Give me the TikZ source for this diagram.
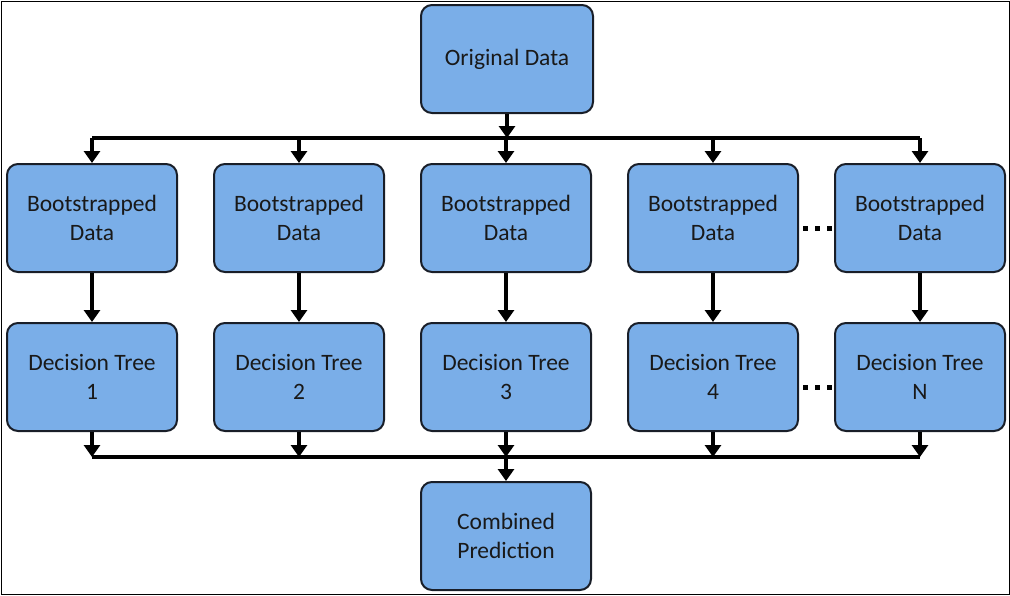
\documentclass[tikz,border=0pt]{standalone}
\usepackage{fontspec}
\setmainfont{Carlito}
\usetikzlibrary{arrows.meta}
\definecolor{boxblue}{RGB}{122,174,232}
\definecolor{boxedge}{RGB}{25,30,40}
\begin{document}
\begin{tikzpicture}[x=1pt,y=-1pt,
  box/.style={draw=boxedge, line width=2pt, fill=boxblue, rounded corners=11pt,
    minimum width=170pt, minimum height=108pt, inner sep=0pt, align=center,
    font=\fontsize{23.5}{29}\selectfont, text=black!90},
  conn/.style={line width=4pt},
  arr/.style={line width=4pt, -{Triangle[length=12pt,width=16pt]}},
  dotline/.style={line width=5pt, dash pattern=on 5pt off 7pt}]
\useasboundingbox (0,0) rectangle (1010,595);
\draw[line width=1pt] (1,1) rectangle (1009,594);

\node[box, minimum width=172pt] (orig) at (507,59) {Original Data};
\foreach \i/\x in {1/92,2/299,3/506,4/713} {
  \node[box] (b\i) at (\x,218) {Bootstrapped\\Data};
  \node[box] (t\i) at (\x,377) {Decision Tree\\\i};
}
\node[box] (b5) at (920,218) {Bootstrapped\\Data};
\node[box] (t5) at (920,377) {Decision Tree\\N};
\node[box] (comb) at (506,536) {Combined\\Prediction};

\coordinate (topL) at (92,138);
\coordinate (topR) at (920,138);
\coordinate (botL) at (92,457);
\coordinate (botR) at (920,457);

\draw[conn] (topL) -- (topR);
\draw[conn] (botL) -- (botR);
\draw[arr] (orig.south) -- (orig.south |- topL);
\foreach \i in {1,...,5} {
  \draw[arr] (b\i.north |- topL) -- (b\i.north);
  \draw[arr] (b\i.south) -- (t\i.north);
  \draw[arr] (t\i.south) -- (t\i.south |- botL);
}
\draw[arr] (comb.north |- botL) -- (comb.north);

\coordinate (d1a) at (803,228);
\coordinate (d1b) at (832,228);
\coordinate (d2a) at (803,387);
\coordinate (d2b) at (832,387);
\draw[dotline] (d1a) -- (d1b);
\draw[dotline] (d2a) -- (d2b);
\end{tikzpicture}
\end{document}
